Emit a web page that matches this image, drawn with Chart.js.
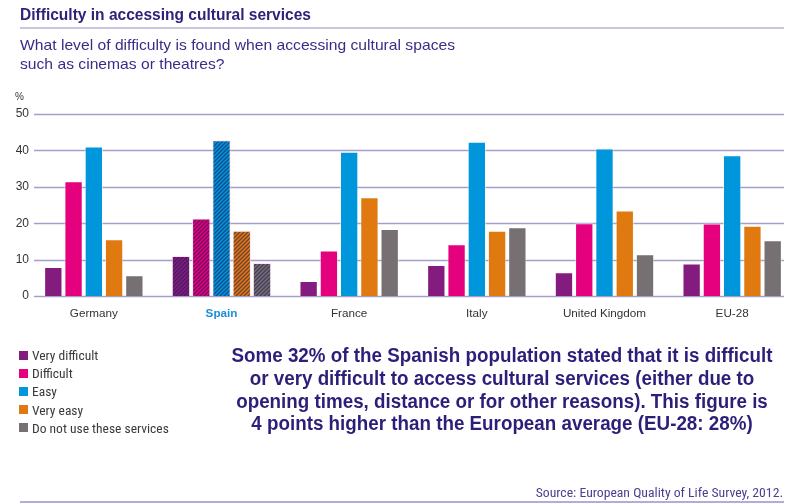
<!DOCTYPE html>
<html>
<head>
<meta charset="utf-8">
<script src="https://cdn.jsdelivr.net/npm/chart.js@4.4.1/dist/chart.umd.min.js"></script>
<style>
  html, body { margin: 0; padding: 0; background: #fff; }
  #wrap { position: relative; width: 800px; height: 503px; overflow: hidden; }
  #c { position: absolute; left: 0; top: 0; }
  .txt { position: absolute; white-space: nowrap; }
  #title { left: 20px; top: 5px; font: bold 16.5px "Liberation Sans", Arial, sans-serif; color: #2d2379; transform-origin: 0 0; }
  #tline { position: absolute; left: 20px; top: 27px; width: 764px; height: 2px; background: #cbc5e2; }
  #sub { left: 20px; top: 35px; font: 15px "Liberation Sans", Arial, sans-serif; color: #3a2d88; line-height: 19px; transform-origin: 0 0; }
  #pct { left: 15px; top: 91px; font: 10px "Liberation Sans", Arial, sans-serif; color: #333; }
  #legend { position: absolute; left: 19px; top: 346px; }
  .li { height: 18.2px; display: flex; align-items: center; font: 13.5px "Liberation Sans Narrow", "Roboto Condensed", Roboto, sans-serif; color: #3a3a3a; }
  .sw { width: 9px; height: 9px; margin-right: 4px; }
  #note { left: 202px; width: 600px; top: 344px; text-align: center; font: bold 19.5px "Liberation Sans", Arial, sans-serif; color: #2b1f7a; line-height: 22.8px; white-space: nowrap; transform-origin: 50% 0; }
  #src { right: 17px; top: 484px; font: 13.7px "Liberation Sans Narrow", "Roboto Condensed", Roboto, sans-serif; color: #4a3f8f; }
  #bline { position: absolute; left: 20px; top: 501px; width: 764px; height: 2px; background: #b3abd9; }
</style>
</head>
<body>
<div id="wrap">
  <canvas id="c" width="800" height="503"></canvas>
  <div class="txt" id="title">Difficulty in accessing cultural services</div>
  <div id="tline"></div>
  <div class="txt" id="sub">What level of difficulty is found when accessing cultural spaces<br>such as cinemas or theatres?</div>
  <div class="txt" id="pct">%</div>
  <div id="legend"></div>
  <div class="txt" id="note">Some 32% of the Spanish population stated that it is difficult<br>or very difficult to access cultural services (either due to<br>opening times, distance or for other reasons). This figure is<br>4 points higher than the European average (EU-28: 28%)</div>
  <div class="txt" id="src">Source: European Quality of Life Survey, 2012.</div>
  <div id="bline"></div>
</div>
<script>
const categories = ['Germany', 'Spain', 'France', 'Italy', 'United Kingdom', 'EU-28'];
const seriesNames = ['Very difficult', 'Difficult', 'Easy', 'Very easy', 'Do not use these services'];
const veryDifficult = [8.0, 11.0, 4.1, 8.5, 6.5, 8.9];
const difficult = [31.5, 21.3, 12.5, 14.2, 20.0, 19.9];
const easy = [41.1, 42.8, 39.6, 42.4, 40.5, 38.7];
const veryEasy = [15.6, 17.9, 27.1, 17.9, 23.5, 19.3];
const doNotUse = [5.7, 9.1, 18.4, 18.9, 11.5, 15.3];
const yTicks = [0, 10, 20, 30, 40, 50];
const highlightCategory = 'Spain';

const seriesValues = [veryDifficult, difficult, easy, veryEasy, doNotUse];
const seriesColors = ['#841c80', '#e5007d', '#0096dc', '#e07a10', '#767072'];
const hi = categories.indexOf(highlightCategory);

// fit text widths to the reference layout
const mctx = document.createElement('canvas').getContext('2d');
function fitX(id, text, target) {
  const el = document.getElementById(id);
  const cs = getComputedStyle(el);
  mctx.font = cs.fontWeight + ' ' + cs.fontSize + ' ' + cs.fontFamily;
  const w = mctx.measureText(text).width;
  el.style.transform = 'scaleX(' + (target / w) + ')';
}
fitX('title', 'Difficulty in accessing cultural services', 291);
fitX('sub', 'What level of difficulty is found when accessing cultural spaces', 435);
fitX('note', 'Some 32% of the Spanish population stated that it is difficult', 541);

function hatch(color) {
  const p = document.createElement('canvas');
  p.width = 4; p.height = 4;
  const g = p.getContext('2d');
  g.fillStyle = color; g.fillRect(0, 0, 4, 4);
  g.strokeStyle = 'rgba(35,25,80,0.6)';
  g.lineWidth = 1.3;
  g.beginPath();
  g.moveTo(-1, 5); g.lineTo(5, -1);
  g.moveTo(-1, 1); g.lineTo(1, -1);
  g.moveTo(3, 5); g.lineTo(5, 3);
  g.stroke();
  return document.getElementById('c').getContext('2d').createPattern(p, 'repeat');
}

const datasets = seriesNames.map((name, i) => ({
  label: name,
  data: seriesValues[i],
  backgroundColor: categories.map((c, j) => j === hi ? hatch(seriesColors[i]) : seriesColors[i]),
  borderColor: categories.map((c, j) => j === hi ? 'rgba(255,220,240,0.7)' : 'rgba(255,255,255,0.5)'),
  borderWidth: 1,
  categoryPercentage: 0.7935,
  barPercentage: 0.905
}));

// legend (HTML), from the same arrays
const lg = document.getElementById('legend');
seriesNames.forEach((n, i) => {
  const d = document.createElement('div'); d.className = 'li';
  const s = document.createElement('span'); s.className = 'sw'; s.style.background = seriesColors[i];
  const t = document.createElement('span'); t.textContent = n;
  d.appendChild(s); d.appendChild(t); lg.appendChild(d);
});

const gridPlugin = {
  id: 'gridPlugin',
  beforeDatasetsDraw(chart) {
    const y = chart.scales.y, ctx = chart.ctx;
    ctx.save();
    ctx.strokeStyle = '#a49ecb';
    ctx.lineWidth = 1.3;
    yTicks.forEach(v => {
      const py = Math.round(y.getPixelForValue(v)) + 0.5;
      ctx.beginPath(); ctx.moveTo(34, py); ctx.lineTo(784, py); ctx.stroke();
    });
    ctx.restore();
  }
};

new Chart(document.getElementById('c'), {
  type: 'bar',
  data: { labels: categories, datasets },
  options: {
    responsive: false,
    animation: false,
    devicePixelRatio: 1,
    layout: { padding: { top: 114, left: 0, right: 4, bottom: 177 } },
    plugins: { legend: { display: false }, tooltip: { enabled: false } },
    scales: {
      x: {
        grid: { display: false, drawTicks: false },
        border: { display: false },
        afterFit: s => { s.height = 30; },
        ticks: {
          padding: 11,
          color: ctx => ctx.index === hi ? '#1b8fd8' : '#333',
          font: ctx => ({ family: '"Liberation Sans", Arial, sans-serif', size: 11.7, weight: ctx.index === hi ? 'bold' : 'normal' })
        }
      },
      y: {
        min: 0, max: 50,
        afterBuildTicks: s => { s.ticks = yTicks.map(v => ({ value: v })); },
        afterFit: s => { s.width = 30; },
        grid: { display: false, drawTicks: false },
        border: { display: false },
        ticks: {
          padding: 1,
          color: '#333',
          font: { family: '"Liberation Sans", Arial, sans-serif', size: 12 }
        }
      }
    }
  },
  plugins: [gridPlugin]
});
</script>
</body>
</html>
